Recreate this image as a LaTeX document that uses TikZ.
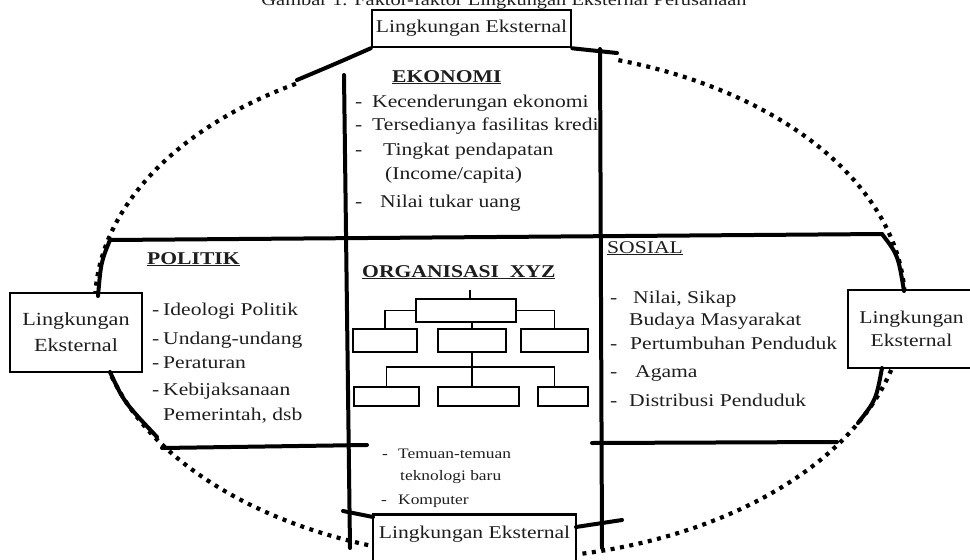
\documentclass[tikz,border=0pt]{standalone}
\usepackage{fontspec}
\setmainfont{Liberation Serif}[FakeStretch=1.2]
\definecolor{ink}{RGB}{30,30,30}
\begin{document}
\begin{tikzpicture}[x=1pt,y=-1pt,
  thickline/.style={line width=4pt, line cap=round},
  extbox/.style={draw, line width=2.6pt, fill=white, inner sep=0pt, align=center, text=ink, font=\fontsize{18}{23}\selectfont},
  orgbox/.style={draw, line width=1.5pt, inner sep=0pt},
  orgline/.style={line width=1.5pt},
  dots/.style={line width=4.2pt, dash pattern=on 4pt off 5.5pt},
  body/.style={anchor=base west, inner sep=0pt, text=ink, font=\fontsize{18}{22}\selectfont},
  small/.style={anchor=base west, inner sep=0pt, text=ink, font=\fontsize{14.5}{17}\selectfont},
  head/.style={anchor=base west, inner sep=0pt, text=ink, font=\bfseries\fontsize{18}{22}\selectfont},
]
\useasboundingbox (0,0) rectangle (970,560);

% partly visible caption at the very top
\begin{scope}
\clip (0,0) rectangle (970,560);
\node[anchor=base, inner sep=0pt, text=ink, font=\fontsize{17}{20}\selectfont] (title) at (504,5) {Gambar 1. Faktor-faktor Lingkungan Eksternal Perusahaan};
\end{scope}

% dotted ellipse (pieces)
\draw[dots] plot[domain=182:240, samples=90] ({500+405*cos(\x)},{304+255*sin(\x)});
\draw[dots] plot[domain=287:357, samples=90] ({500+405*cos(\x)},{304+255*sin(\x)});
\draw[dots] plot[domain=15:79, samples=90] ({500+405*cos(\x)},{304+255*sin(\x)});
\draw[dots] plot[domain=109:164, samples=90] ({500+405*cos(\x)},{304+255*sin(\x)});

% structure lines
\coordinate (v1t) at (344,75);
\coordinate (v1b) at (350,548);
\coordinate (v2t) at (600,49);
\coordinate (v2b) at (602,548);
\coordinate (h1a) at (110,240);
\coordinate (h1b) at (882,234);
\coordinate (h2a) at (162,448);
\coordinate (h2b) at (367,445);
\coordinate (h3a) at (592,443);
\coordinate (h3b) at (837,442);
\draw[thickline] (v1t) -- (v1b);
\draw[thickline] (v2t) -- (v2b);
\draw[thickline] (h1a) -- (h1b);
\draw[thickline] (h2a) -- (h2b);
\draw[thickline] (h3a) -- (h3b);

% boxes
\node[extbox, minimum width=199pt, minimum height=37pt] (top) at (471.5,28.5) {Lingkungan Eksternal};
\node[extbox, minimum width=132pt, minimum height=79pt, font=\fontsize{18.5}{26}\selectfont] (left) at (76,332.5) {Lingkungan\\Eksternal};
\node[extbox, minimum width=127pt, minimum height=78pt] (right) at (911.5,329) {Lingkungan\\Eksternal};
\node[extbox, anchor=north, minimum width=203pt, text height=24pt, text depth=28pt] (bot) at (474.5,513) {Lingkungan Eksternal};

% solid pieces joining the boxes
\coordinate (s1a) at (297,80);
\draw[thickline] (s1a) .. controls (335,64) .. (top.south west);
\coordinate (s2b) at (617,53);
\draw[thickline] (top.south east) -- (s2b);
\coordinate (s3b) at (98,296);
\draw[thickline] (h1a) .. controls (101,262) .. (s3b);
\coordinate (s4a) at (110,372);
\coordinate (s4b) at (157,437);
\draw[thickline] (s4a) .. controls (124,402) .. (s4b);
\coordinate (s5b) at (904,291);
\draw[thickline] (h1b) .. controls (898,255) .. (s5b);
\coordinate (s6a) at (882,368);
\coordinate (s6b) at (858,423);
\draw[thickline] (s6a) .. controls (876,400) .. (s6b);
\coordinate (b1a) at (343,511);
\coordinate (b1b) at (373,517);
\draw[thickline] (b1a) -- (b1b);
\coordinate (b2a) at (576,527);
\coordinate (b2b) at (622,520);
\draw[thickline] (b2a) -- (b2b);

% EKONOMI
\node[head] (ekh) at (392,82) {\underline{EKONOMI}};
\node[body] (e1) at (355,107) {\makebox[17pt][l]{-}Kecenderungan ekonomi};
\node[body] (e2) at (355,130) {\makebox[17pt][l]{-}Tersedianya fasilitas kredi};
\node[body] (e3) at (355,155) {\makebox[28pt][l]{-}Tingkat pendapatan};
\node[body] (e4) at (385,179) {(Income/capita)};
\node[body] (e5) at (355,207) {\makebox[25pt][l]{-}Nilai tukar uang};

% POLITIK
\node[head] (poh) at (147,264) {\underline{POLITIK}};
\node[body] (p1) at (152,315) {\makebox[11pt][l]{-}Ideologi Politik};
\node[body] (p2) at (152,344) {\makebox[11pt][l]{-}Undang-undang};
\node[body] (p3) at (152,368) {\makebox[11pt][l]{-}Peraturan};
\node[body] (p4) at (152,395) {\makebox[11pt][l]{-}Kebijaksanaan};
\node[body] (p5) at (163,420) {Pemerintah, dsb};

% ORGANISASI XYZ
\node[head] (orh) at (362,277) {\underline{ORGANISASI\ \ XYZ}};
\node[orgbox, minimum width=100pt, minimum height=23pt] (ot) at (466,310.5) {};
\node[orgbox, minimum width=64pt, minimum height=23pt] (om1) at (385,340.5) {};
\node[orgbox, minimum width=68pt, minimum height=23pt] (om2) at (472,340.5) {};
\node[orgbox, minimum width=67pt, minimum height=23pt] (om3) at (554.5,340.5) {};
\node[orgbox, minimum width=65pt, minimum height=19pt] (ob1) at (386.5,396.5) {};
\node[orgbox, minimum width=81pt, minimum height=19pt] (ob2) at (478.5,396.5) {};
\node[orgbox, minimum width=50pt, minimum height=19pt] (ob3) at (563,396.5) {};
\coordinate (ostub) at (470,290);
\coordinate (busL) at (386.5,367);
\coordinate (busR) at (554.5,367);
\draw[orgline] (ostub) -- (ostub |- ot.north);
\draw[orgline] (ot.west) -| (om1.north);
\draw[orgline] (ot.east) -| (om3.north);
\draw[orgline] (om2.north |- ot.south) -- (om2.north);
\draw[orgline] (om2.south) -- (om2.south |- ob2.north);
\draw[orgline] (ob1.north) -- (busL) -- (busR) -- (busR |- ob3.north);

% technology notes
\node[small] (t1) at (382,458) {\makebox[16pt][l]{-}Temuan-temuan};
\node[small] (t2) at (400,480) {teknologi baru};
\node[small] (t3) at (381,504) {\makebox[17pt][l]{-}Komputer};

% SOSIAL
\node[body] (soh) at (607,253) {\underline{SOSIAL}};
\node[body] (s1) at (610,303) {\makebox[23pt][l]{-}Nilai, Sikap};
\node[body] (s2) at (629,325) {Budaya Masyarakat};
\node[body] (s3) at (610,349) {\makebox[20pt][l]{-}Pertumbuhan Penduduk};
\node[body] (s4) at (610,377) {\makebox[25pt][l]{-}Agama};
\node[body] (s5) at (610,406) {\makebox[19pt][l]{-}Distribusi Penduduk};
\end{tikzpicture}
\end{document}
